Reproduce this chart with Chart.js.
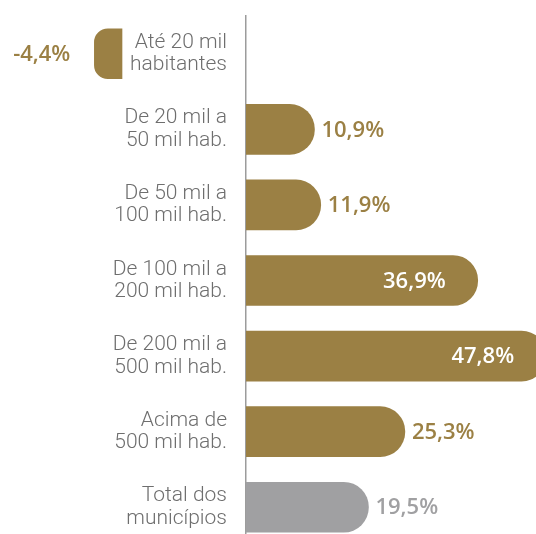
<!DOCTYPE html>
<html>
<head>
<meta charset="utf-8">
<script src="https://cdn.jsdelivr.net/npm/chart.js@4.4.1/dist/chart.umd.min.js"></script>
<style>
  html, body { margin: 0; padding: 0; background: #fff; overflow: hidden; }
  #wrap { position: relative; width: 536px; height: 545px; }
</style>
</head>
<body>
<div id="wrap"><canvas id="popChart"></canvas></div>
<script>
const COLORS = {
  gold: '#9B8044',
  gray: '#A0A0A2',
  text: '#6E6E6E',
  axis: '#9C9C9C',
  white: '#FFFFFF'
};

const categories = [
  ['Até 20 mil', 'habitantes'],
  ['De 20 mil a', '50 mil hab.'],
  ['De 50 mil a', '100 mil hab.'],
  ['De 100 mil a', '200 mil hab.'],
  ['De 200 mil a', '500 mil hab.'],
  ['Acima de', '500 mil hab.'],
  ['Total dos', 'municípios']
];
const values = [-4.4, 10.9, 11.9, 36.9, 47.8, 25.3, 19.5];
const barColors = ['gold', 'gold', 'gold', 'gold', 'gold', 'gold', 'gray'];

const positiveValues = values.map(v => v >= 0 ? v : null);
const negativeValues = values.map(v => v < 0 ? v : null);
const colorList = barColors.map(c => COLORS[c]);

// scale: ~6.28px per percentage point, zero line at x=246
const PX_PER_PT = 6.28;
const AXIS_X = 246;
const PLOT_W = 536 - AXIS_X;
const NEG_ZERO_X = 122; // negative bar is drawn left of its label

function fmt(v) {
  return v.toFixed(1).replace('.', ',') + '%';
}

const valueLabels = {
  id: 'valueLabels',
  afterDatasetsDraw(chart) {
    const ctx = chart.ctx;
    ctx.save();
    ctx.font = '600 22px "Open Sans"';
    ctx.textBaseline = 'middle';
    chart.data.datasets.forEach((ds, di) => {
      const meta = chart.getDatasetMeta(di);
      meta.data.forEach((bar, i) => {
        const v = ds.data[i];
        if (v === null || v === undefined) return;
        const y = bar.y + 1;
        if (v < 0) {
          ctx.textAlign = 'right';
          ctx.fillStyle = colorList[i];
          ctx.fillText(fmt(v), bar.x - 24, y);
        } else if (v > 30) {
          ctx.textAlign = 'right';
          ctx.fillStyle = COLORS.white;
          ctx.fillText(fmt(v), bar.x - 32, y);
        } else {
          ctx.textAlign = 'left';
          ctx.fillStyle = colorList[i];
          ctx.fillText(fmt(v), bar.x + 7, y);
        }
      });
    });
    ctx.restore();
  }
};

const ctx = document.getElementById('popChart').getContext('2d');

new Chart(ctx, {
  type: 'bar',
  data: {
    labels: categories,
    datasets: [
      {
        data: positiveValues,
        xAxisID: 'x',
        backgroundColor: colorList,
        borderRadius: 25,
        borderSkipped: 'start',
        barThickness: 50,
        grouped: false,
        base: 0
      },
      {
        data: negativeValues,
        xAxisID: 'xNeg',
        backgroundColor: colorList,
        borderRadius: 25,
        borderSkipped: 'start',
        barThickness: 50,
        grouped: false,
        base: 0,
        clip: false
      }
    ]
  },
  options: {
    indexAxis: 'y',
    responsive: true,
    maintainAspectRatio: false,
    animation: false,
    layout: { padding: { top: 16, right: 0, bottom: 0, left: 0 } },
    plugins: {
      legend: { display: false },
      tooltip: { enabled: false }
    },
    scales: {
      x: {
        display: false,
        min: 0,
        max: PLOT_W / PX_PER_PT
      },
      xNeg: {
        display: false,
        axis: 'x',
        min: (AXIS_X - NEG_ZERO_X) / PX_PER_PT,
        max: (AXIS_X - NEG_ZERO_X + PLOT_W) / PX_PER_PT
      },
      y: {
        position: 'left',
        afterFit(scale) {
          scale.width = AXIS_X;
          scale.paddingTop = 0;
          scale.paddingBottom = 0;
        },
        grid: { display: false, drawTicks: false },
        border: { display: true, color: COLORS.axis, width: 1.5 },
        ticks: {
          padding: 19,
          color: COLORS.text,
          font: {
            family: 'Roboto',
            weight: '300',
            size: 21,
            lineHeight: 1.07
          }
        }
      }
    }
  },
  plugins: [valueLabels]
});
</script>
</body>
</html>
